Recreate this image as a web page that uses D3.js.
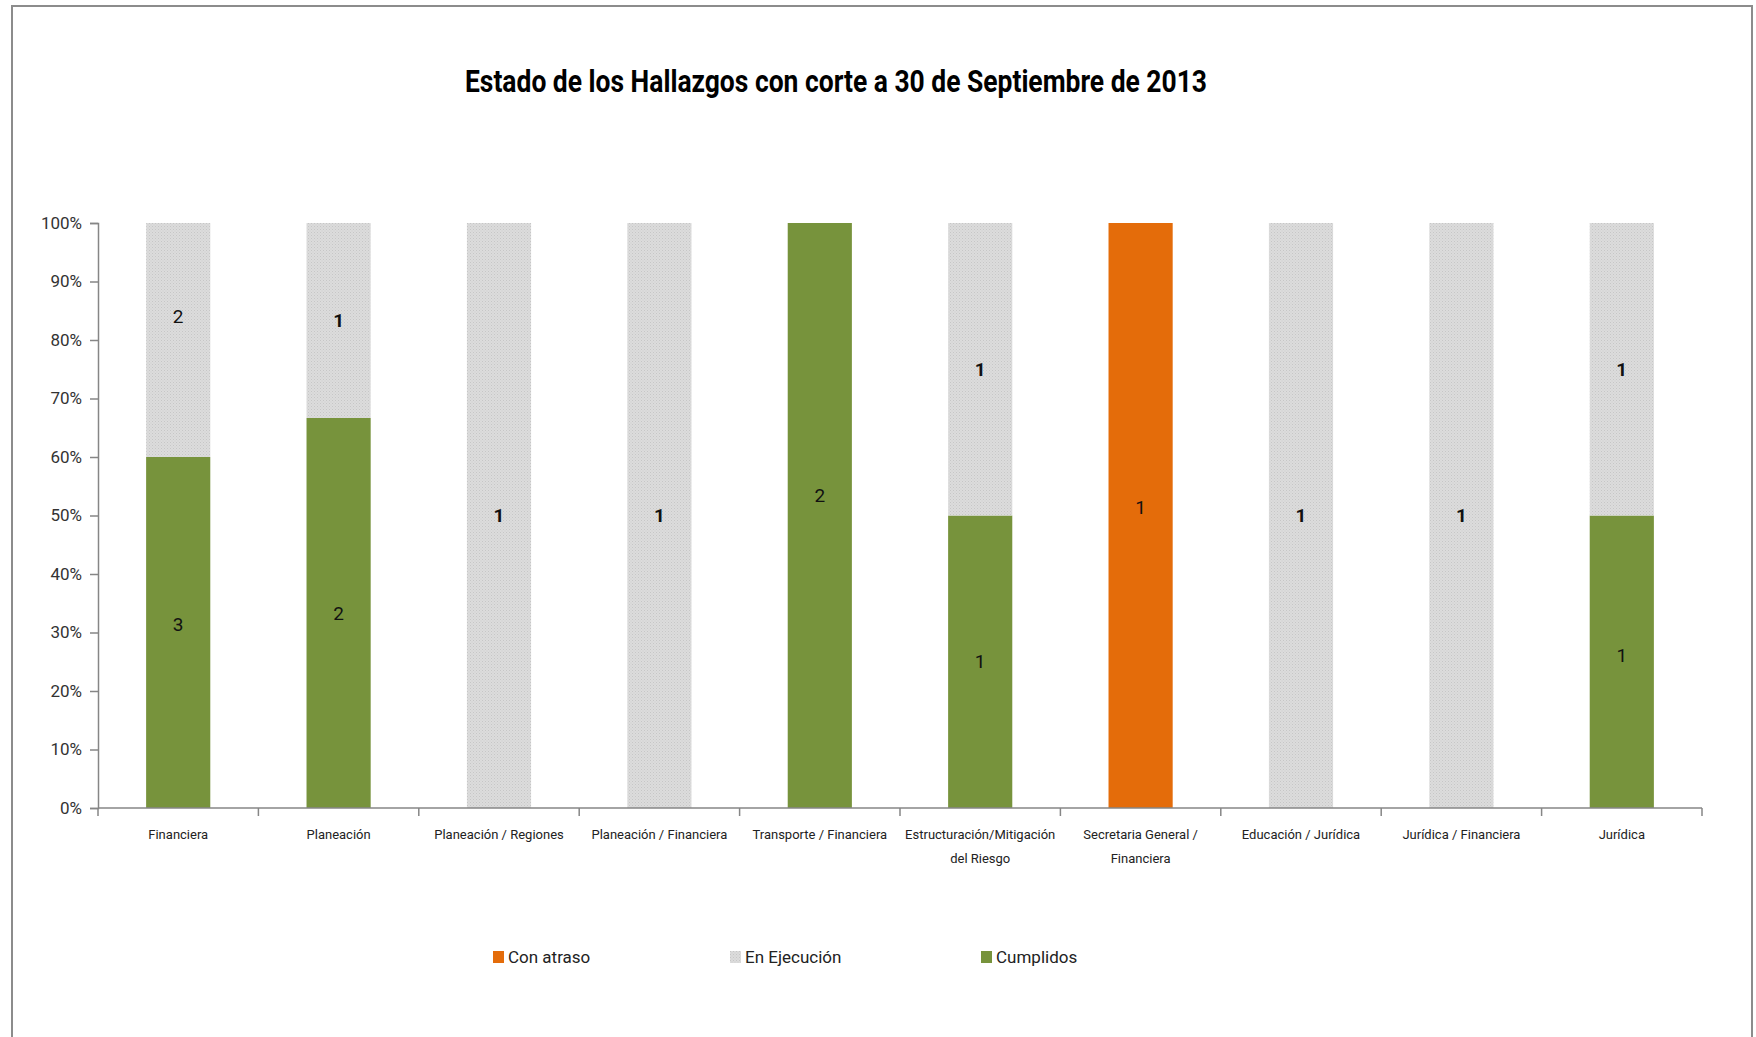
<!DOCTYPE html>
<html>
<head>
<meta charset="utf-8">
<script src="https://cdn.jsdelivr.net/npm/d3@7"></script>
<style>
  body { margin: 0; background: #fff; }
  text { font-family: Roboto, "Open Sans", sans-serif; }
</style>
</head>
<body>
<div id="chart"></div>
<script>
// data
const categories = ["Financiera", "Planeación", "Planeación / Regiones", "Planeación / Financiera",
  "Transporte / Financiera", "Estructuración/Mitigación del Riesgo", "Secretaria General / Financiera",
  "Educación / Jurídica", "Jurídica / Financiera", "Jurídica"];
const conAtraso   = [0, 0, 0, 0, 0, 0, 1, 0, 0, 0];
const enEjecucion = [2, 1, 1, 1, 0, 1, 0, 1, 1, 1];
const cumplidos   = [3, 2, 0, 0, 2, 1, 0, 0, 0, 1];
const yTicks = [0, 0.1, 0.2, 0.3, 0.4, 0.5, 0.6, 0.7, 0.8, 0.9, 1];

// label lines for the x axis (wrapped like the original)
const xLabelLines = {
  "Estructuración/Mitigación del Riesgo": ["Estructuración/Mitigación", "del Riesgo"],
  "Secretaria General / Financiera": ["Secretaria General /", "Financiera"]
};

const width = 1756, height = 1037;
const margin = {top: 223, right: 54, bottom: 229, left: 98};
const innerWidth = width - margin.left - margin.right;
const innerHeight = height - margin.top - margin.bottom;

const colors = {cumplidos: "#77933c", enEjecucion: "url(#dots)", conAtraso: "#e46c0a"};

const svg = d3.select("#chart").append("svg")
  .attr("width", width).attr("height", height);

// dotted texture for the grey series
const pat = svg.append("defs").append("pattern")
  .attr("id", "dots").attr("patternUnits", "userSpaceOnUse")
  .attr("width", 3).attr("height", 3);
pat.append("rect").attr("width", 3).attr("height", 3).attr("fill", "#dcdcdc");
pat.append("rect").attr("x", 0).attr("y", 0).attr("width", 1).attr("height", 1).attr("fill", "#c6c6c6");
pat.append("rect").attr("x", 1.5).attr("y", 1.5).attr("width", 1).attr("height", 1).attr("fill", "#cfcfcf");

// outer frame
svg.append("path")
  .attr("d", `M12,${height} V6 H1752 V${height}`)
  .attr("fill", "none").attr("stroke", "#8c8c8c").attr("stroke-width", 2);

// title
svg.append("text")
  .attr("x", 836).attr("y", 92)
  .attr("text-anchor", "middle")
  .attr("font-size", 31).attr("font-weight", "bold").attr("fill", "#000")
  .attr("font-family", "'Open Sans', sans-serif")
  .attr("textLength", 742).attr("lengthAdjust", "spacingAndGlyphs")
  .text("Estado  de los Hallazgos  con corte a 30 de Septiembre  de 2013");

const g = svg.append("g").attr("transform", `translate(${margin.left},${margin.top})`);

// scales
const xScale = d3.scaleBand().domain(categories).range([0, innerWidth]).paddingInner(0.6).paddingOuter(0.3);
const bandStep = innerWidth / categories.length;
const yScale = d3.scaleLinear().domain([0, 1]).range([innerHeight, 0]);

// stack the series as percentages
const rows = categories.map((c, i) => {
  const total = conAtraso[i] + enEjecucion[i] + cumplidos[i];
  return {cat: c, cumplidos: cumplidos[i] / total, enEjecucion: enEjecucion[i] / total, conAtraso: conAtraso[i] / total,
          n: {cumplidos: cumplidos[i], enEjecucion: enEjecucion[i], conAtraso: conAtraso[i]}};
});
const keys = ["cumplidos", "enEjecucion", "conAtraso"];
const series = d3.stack().keys(keys)(rows);

// y axis
const yAxis = d3.axisLeft(yScale).tickValues(yTicks).tickFormat(d3.format(".0%")).tickSize(8).tickPadding(8);
const yG = g.append("g").call(yAxis);
yG.select(".domain").attr("stroke", "#868686").attr("stroke-width", 1.5);
yG.selectAll(".tick line").attr("stroke", "#868686").attr("stroke-width", 1.5);
yG.selectAll(".tick text").attr("font-size", 17).attr("fill", "#333")
  .attr("font-family", "Roboto, sans-serif");

// bars
g.selectAll("g.series").data(series).join("g")
  .attr("class", "series")
  .attr("fill", d => colors[d.key])
  .selectAll("rect").data(d => d).join("rect")
    .attr("x", d => xScale(d.data.cat))
    .attr("width", xScale.bandwidth())
    .attr("y", d => yScale(d[1]))
    .attr("height", d => yScale(d[0]) - yScale(d[1]));

// x axis line with ticks at band boundaries
g.append("line")
  .attr("x1", 0).attr("x2", innerWidth)
  .attr("y1", innerHeight).attr("y2", innerHeight)
  .attr("stroke", "#868686").attr("stroke-width", 1.5);
g.selectAll("line.xtick").data(d3.range(categories.length + 1)).join("line")
  .attr("class", "xtick")
  .attr("x1", i => i * bandStep).attr("x2", i => i * bandStep)
  .attr("y1", innerHeight).attr("y2", innerHeight + 8)
  .attr("stroke", "#868686").attr("stroke-width", 1.5);

// x labels
g.selectAll("text.xlab").data(categories).join("text")
  .attr("class", "xlab")
  .attr("text-anchor", "middle")
  .attr("font-size", 13).attr("fill", "#222")
  .attr("transform", d => `translate(${xScale(d) + xScale.bandwidth() / 2},${innerHeight + 31})`)
  .selectAll("tspan").data(d => xLabelLines[d] || [d]).join("tspan")
    .attr("x", 0).attr("dy", (d, i) => i === 0 ? 0 : 24)
    .text(d => d);

// data labels
// small nudges (px) where the original labels sit off the segment centre
const nudge = {"Financiera|enEjecucion": -24, "Financiera|cumplidos": -8, "Transporte / Financiera|cumplidos": -20,
               "Secretaria General / Financiera|conAtraso": -8, "Jurídica|cumplidos": -6};
const labels = [];
series.forEach(s => s.forEach(d => {
  const v = d.data.n[s.key];
  if (v > 0) labels.push({key: s.key, cat: d.data.cat, v, y: (yScale(d[0]) + yScale(d[1])) / 2});
}));
g.selectAll("text.dlab").data(labels).join("text")
  .attr("class", "dlab")
  .attr("x", d => xScale(d.cat) + xScale.bandwidth() / 2)
  .attr("y", d => d.y + (nudge[d.cat + "|" + d.key] || 0))
  .attr("dy", "0.35em")
  .attr("text-anchor", "middle")
  .attr("font-size", 19)
  .attr("font-weight", d => d.key === "enEjecucion" && d.v === 1 ? "bold" : "normal")
  .attr("fill", "#111")
  .text(d => d.v);

// legend
const legendItems = [
  {label: "Con atraso", key: "conAtraso", x: 493},
  {label: "En Ejecución", key: "enEjecucion", x: 730},
  {label: "Cumplidos", key: "cumplidos", x: 981}
];
const lg = svg.append("g").selectAll("g").data(legendItems).join("g")
  .attr("transform", d => `translate(${d.x},957)`);
lg.append("rect").attr("x", 0).attr("y", -6).attr("width", 11).attr("height", 12)
  .attr("fill", d => colors[d.key]);
lg.append("text").attr("x", 15).attr("dy", "0.35em")
  .attr("font-size", 17).attr("fill", "#222")
  .text(d => d.label);
</script>
</body>
</html>
